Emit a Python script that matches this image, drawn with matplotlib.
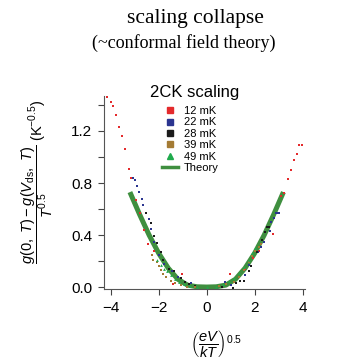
import matplotlib
matplotlib.use("Agg")
import matplotlib.pyplot as plt
from matplotlib.lines import Line2D

plt.rcParams['font.family'] = ['Liberation Sans', 'DejaVu Sans']
plt.rcParams['mathtext.fontset'] = 'custom'
plt.rcParams['mathtext.rm'] = 'Liberation Sans'
plt.rcParams['mathtext.it'] = 'Liberation Sans:italic'
plt.rcParams['mathtext.bf'] = 'Liberation Sans:bold'

# data: x = (eV/kT)^0.5, y = scaled conductance
x_12 = [-4.17, -4.0, -3.89, -3.78, -3.67, -3.54, -3.40, -3.24, -3.14, -2.96, -2.79, -2.61,
        -2.43, -2.2, -1.42, -1.02, 0.97, 1.58, 1.92, 2.17, 2.75, 3.08, 3.22, 3.39, 3.5,
        3.64, 3.76, 3.86, 3.97]
y_12 = [1.46, 1.42, 1.39, 1.32, 1.23, 1.16, 1.06, 0.91, 0.84, 0.67, 0.57, 0.44,
        0.33, 0.28, 0.02, 0.10, 0.10, 0.14, 0.22, 0.28, 0.41, 0.70, 0.72, 0.83, 0.90,
        0.98, 1.02, 1.09, 1.09]

x_22 = [-3.07, -2.99, -2.92, -2.83, -2.71, -2.64, -2.54, -2.42, -2.33, -2.2, -1.98, -1.78,
        -1.43, -1.2, -0.67, 0.75, 1.01, 1.61, 1.78, 2.14, 2.28, 2.37, 2.62, 2.68, 2.79,
        2.89, 2.96, 3.03]
y_22 = [0.84, 0.82, 0.78, 0.73, 0.68, 0.63, 0.57, 0.52, 0.45, 0.35, 0.25, 0.18,
        0.12, 0.08, 0.03, 0.04, 0.015, 0.09, 0.17, 0.27, 0.31, 0.35, 0.43, 0.50, 0.53,
        0.57, 0.57, 0.57]

x_28 = [-2.53, -2.33, -2.2, -2.08, -1.92, -1.81, -1.57, -1.36, -1.08, -0.89, -0.74, -0.5,
        0.64, 1.10, 1.23, 1.40, 1.55, 1.75, 1.86, 2.10, 2.30, 2.44, 2.51, 2.58]
y_28 = [0.57, 0.49, 0.39, 0.34, 0.27, 0.21, 0.14, 0.12, 0.07, 0.036, 0.02, 0.01,
        0.002, -0.005, 0.03, 0.05, 0.05, 0.12, 0.16, 0.27, 0.36, 0.42, 0.46, 0.46]

x_39 = [-2.29, -2.22, -2.06, -1.99, -1.92, -1.81, -1.71, -1.5, -1.33, -1.08, -0.81, -0.5,
        0.5, 0.8, 1.12, 1.33, 1.54, 1.75, 1.9, 2.03, 2.17, 2.28]
y_39 = [0.25, 0.21, 0.19, 0.16, 0.13, 0.10, 0.075, 0.046, 0.028, 0.015, 0.002, 0.0,
        0.005, 0.02, 0.04, 0.08, 0.13, 0.19, 0.24, 0.28, 0.31, 0.33]

x_49 = [-2.06, -1.92, -1.78, -1.64, -1.5, -1.33, -1.15, -0.95, -0.7, -0.4, 0.0, 0.4,
        0.7, 0.92, 1.12, 1.33, 1.54, 1.75, 1.89, 2.03]
y_49 = [0.21, 0.17, 0.14, 0.12, 0.09, 0.06, 0.04, 0.02, 0.01, 0.002, 0.0, 0.004,
        0.02, 0.046, 0.07, 0.105, 0.156, 0.21, 0.26, 0.30]

x_theory = [-3.2, -2.8, -2.4, -2.0, -1.6, -1.2, -0.8, -0.4, 0.0, 0.4, 0.8, 1.2, 1.6,
            2.0, 2.4, 2.8, 3.2]
y_theory = [0.73, 0.56, 0.40, 0.26, 0.145, 0.06, 0.015, 0.002, 0.0, 0.002, 0.015, 0.06,
            0.145, 0.26, 0.40, 0.56, 0.73]

series = [
    ('12 mK', x_12, y_12, '#e42a2c', 's'),
    ('22 mK', x_22, y_22, '#2b3590', 's'),
    ('28 mK', x_28, y_28, '#1b1b1b', 's'),
    ('39 mK', x_39, y_39, '#a47b34', 's'),
    ('49 mK', x_49, y_49, '#1faa4c', '^'),
]
theory_color = '#3f8f3f'

fig = plt.figure(figsize=(3.38, 3.59), dpi=100)
W, H = 338, 359
ax = fig.add_axes([104 / W, 1 - 289 / H, 201 / W, 193 / H])

ax.plot(x_theory, y_theory, color=theory_color, lw=3.6, solid_capstyle='butt', zorder=1)
for name, xs, ys, col, mk in series:
    ax.scatter(xs, ys, s=4, marker=mk, color=col, linewidths=0, zorder=2)

ax.set_xlim(-4.28, 4.1)
ax.set_ylim(-0.015, 1.469)
ax.set_xticks([-4, -2, 0, 2, 4])
ax.set_xticklabels(['\u22124', '\u22122', '0', '2', '4'])
ax.set_yticks([0.0, 0.2, 0.4, 0.6, 0.8, 1.0, 1.2, 1.4])
ax.set_yticklabels(['0.0', '', '0.4', '', '0.8', '', '1.2', ''])
ax.tick_params(direction='out', length=4.5, width=0.8, labelsize=11, color='#444444', pad=4)
for side in ['top', 'right']:
    ax.spines[side].set_visible(False)
for side in ['left', 'bottom']:
    ax.spines[side].set_color('#555555')
    ax.spines[side].set_linewidth(0.8)

handles = [Line2D([], [], ls='none', marker=mk, color=col, markersize=4.5)
           for name, xs, ys, col, mk in series]
handles.append(Line2D([], [], color=theory_color, lw=2.5))
labels = [s[0] for s in series] + ['Theory']
fig.legend(handles, labels, loc='upper left', bbox_to_anchor=(162 / W, 1 - 106 / H),
           frameon=False, fontsize=8, handlelength=1.4, handletextpad=0.6,
           labelspacing=0.13, borderpad=0, borderaxespad=0)

fig.text(195 / W, 1 - 92 / H, '2CK scaling', ha='center', va='center', fontsize=12)
fig.text(195 / W, 1 - 18 / H, 'scaling collapse', ha='center', va='center',
         fontsize=15.5, family='Liberation Serif')
fig.text(184 / W, 1 - 43 / H, '(~conformal field theory)', ha='center', va='center',
         fontsize=13, family='Liberation Serif')

fig.text(37 / W, 1 - 182 / H,
         r'$\dfrac{g(0,\ T)-g(V_{\mathrm{ds}},\ T)}{T^{0.5}}$ (K$^{-0.5}$)',
         rotation=90, ha='center', va='center', fontsize=10.5)
fig.text(216 / W, 1 - 344 / H, r'$\left(\dfrac{eV}{kT}\right)^{0.5}$',
         ha='center', va='center', fontsize=10.5)

fig.savefig('out.png', dpi=100)
